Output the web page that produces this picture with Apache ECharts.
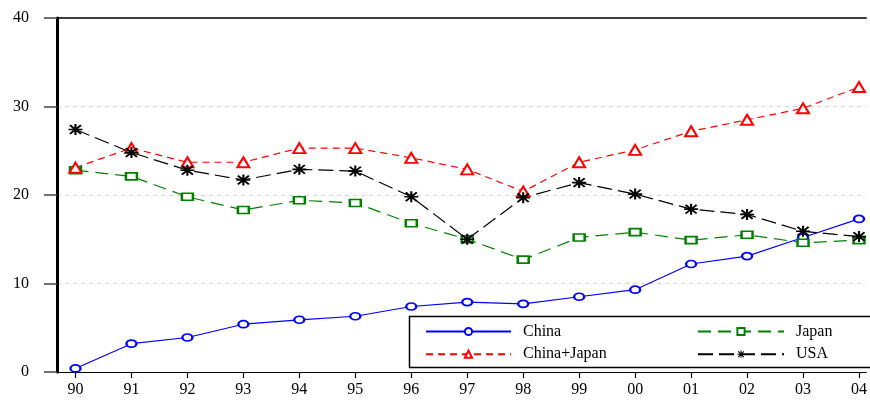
<!DOCTYPE html>
<html>
<head>
<meta charset="utf-8">
<script src="https://cdn.jsdelivr.net/npm/echarts@6/dist/echarts.min.js"></script>
<style>
  html, body { margin: 0; padding: 0; background: #fff; }
  #chart { width: 870px; height: 400px; }
</style>
</head>
<body>
<div id="chart"></div>
<script>
// Years 1990-2004, labelled by their last two digits
const yearLabels = ['90','91','92','93','94','95','96','97','98','99','00','01','02','03','04'];

// Shares (%) by partner
const china      = [0.4, 3.2, 3.9, 5.4, 5.9, 6.3, 7.4, 7.9, 7.7, 8.5, 9.3, 12.2, 13.1, 15.2, 17.3];
const japan      = [22.8, 22.1, 19.8, 18.3, 19.4, 19.1, 16.8, 15.0, 12.7, 15.2, 15.8, 14.9, 15.5, 14.6, 14.9];
const chinaJapan = [23.1, 25.3, 23.7, 23.7, 25.3, 25.3, 24.2, 22.9, 20.4, 23.7, 25.1, 27.2, 28.5, 29.8, 32.2];
const usa        = [27.4, 24.8, 22.8, 21.7, 22.9, 22.7, 19.8, 15.0, 19.7, 21.4, 20.1, 18.4, 17.8, 15.9, 15.3];

const yTicks = [0, 10, 20, 30, 40];

const FONT = '"Liberation Serif", "Times New Roman", serif';
const xIdx = yearLabels.map((_, i) => i);
const pairs = arr => arr.map((v, i) => [i, v]);

// eight-armed asterisk marker
const ASTERISK = 'path://M0 10.2H24V13.8H0Z M10.2 0H13.8V24H10.2Z ' +
  'M1.2 3.8L3.8 1.2L22.8 20.2L20.2 22.8Z M20.2 1.2L22.8 3.8L3.8 22.8L1.2 20.2Z';

const chart = echarts.init(document.getElementById('chart'), null, { renderer: 'canvas' });

function lineSeries(name, data, color, dash, symbol, size) {
  return {
    name, type: 'line', data: pairs(data),
    symbol, symbolSize: size, showAllSymbol: true,
    itemStyle: { color, borderWidth: 1.6 },
    lineStyle: { color, width: 1.2, type: dash },
    emphasis: { disabled: true },
    animation: false, z: 2
  };
}

const legendText = { fontFamily: FONT, fontSize: 16, color: '#000', lineHeight: 15, padding: [0, 0, 0, 7] };

chart.setOption({
  animation: false,
  backgroundColor: '#fff',
  grid: { left: 57, right: 0, top: 18, bottom: 28, containLabel: false },
  xAxis: [{
    type: 'value', min: -0.33, max: 14.13, position: 'bottom',
    axisLine: { show: true, onZero: false, lineStyle: { color: '#000', width: 1.2 } },
    axisTick: { show: true, customValues: xIdx, length: 6, lineStyle: { color: '#000', width: 1.2 } },
    axisLabel: {
      customValues: xIdx, margin: 10,
      formatter: v => yearLabels[Math.round(v)],
      fontFamily: FONT, fontSize: 16, color: '#000'
    },
    splitLine: { show: false }
  }, {
    type: 'value', min: -0.33, max: 14.13, position: 'top',
    axisLine: { show: true, onZero: false, lineStyle: { color: '#000', width: 1.5 } },
    axisTick: { show: false }, axisLabel: { show: false }, splitLine: { show: false }
  }],
  yAxis: {
    type: 'value', min: yTicks[0], max: yTicks[yTicks.length - 1], interval: 10,
    axisLine: { show: true, onZero: false, lineStyle: { color: '#000', width: 3 } },
    axisTick: { show: true, length: 13, lineStyle: { color: '#444', width: 1.5 } },
    axisLabel: { margin: 28, fontFamily: FONT, fontSize: 16, color: '#000' },
    splitLine: {
      show: true, lineStyle: { color: '#d4d4d4', width: 1, type: [4, 4] },
      showMaxLine: false, showMinLine: false
    }
  },
  graphic: [{
    type: 'rect', z: 3,
    shape: { x: 409.5, y: 316.5, width: 470, height: 51 },
    style: { fill: '#fff', stroke: '#000', lineWidth: 1.5 }
  }],
  legend: [{
    data: ['China', 'China+Japan'],
    orient: 'vertical', left: 425, top: 323.5, padding: 0,
    itemWidth: 85, itemHeight: 9, itemGap: 6.7,
    selectedMode: false, z: 5, textStyle: legendText
  }, {
    data: ['Japan', 'USA'],
    orient: 'vertical', left: 697, top: 323.5, padding: 0,
    itemWidth: 86, itemHeight: 9, itemGap: 6.7,
    selectedMode: false, z: 5, textStyle: legendText
  }],
  series: [
    lineSeries('China', china, '#0000ff', 'solid', 'emptyCircle', [10, 7]),
    lineSeries('Japan', japan, '#008000', [13, 7], 'emptyRect', [11, 7]),
    lineSeries('China+Japan', chinaJapan, '#ff0000', [7, 5], 'emptyTriangle', [12, 10]),
    lineSeries('USA', usa, '#000000', [15, 6], ASTERISK, [14, 11])
  ]
});
</script>
</body>
</html>
